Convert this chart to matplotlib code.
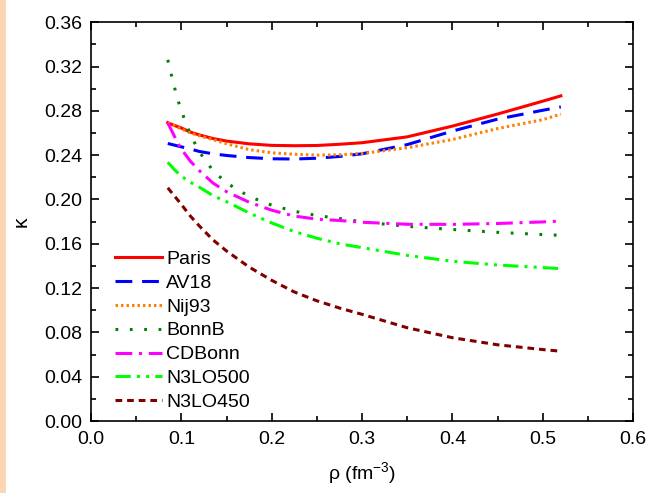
import numpy as np
import matplotlib
matplotlib.use("Agg")
from matplotlib import pyplot as plt
from matplotlib.patches import Rectangle
from matplotlib.ticker import MultipleLocator

plt.rcParams['font.family'] = ['Liberation Sans', 'DejaVu Sans']
plt.rcParams['axes.unicode_minus'] = False

# density grid (fm^-3)
rho = [0.085, 0.09, 0.095, 0.10, 0.11, 0.12, 0.135, 0.15, 0.175, 0.2,
       0.225, 0.25, 0.275, 0.3, 0.35, 0.4, 0.45, 0.5, 0.52]

kappa_paris = [0.2693, 0.2675, 0.2660, 0.2645, 0.2608, 0.2582, 0.2550, 0.2527, 0.2502, 0.2488,
               0.2485, 0.2487, 0.2498, 0.2512, 0.2565, 0.2662, 0.2771, 0.2887, 0.2935]
kappa_av18 = [0.2505, 0.2495, 0.2485, 0.2475, 0.2455, 0.2433, 0.2412, 0.2397, 0.2378, 0.2367,
              0.2365, 0.2372, 0.2388, 0.2412, 0.2495, 0.2617, 0.2725, 0.2805, 0.2835]
kappa_nij93 = [0.2693, 0.2675, 0.2655, 0.2637, 0.2600, 0.2575, 0.2540, 0.2503, 0.2450, 0.2421,
               0.2408, 0.2400, 0.2403, 0.2415, 0.2467, 0.2541, 0.2640, 0.2720, 0.2770]
kappa_bonnb = [0.3260, 0.3090, 0.2930, 0.2800, 0.2585, 0.2428, 0.2260, 0.2149, 0.2027, 0.1948,
               0.1893, 0.1855, 0.1828, 0.1798, 0.1757, 0.1729, 0.1703, 0.1683, 0.1676]
kappa_cdbonn = [0.2690, 0.2610, 0.2525, 0.2455, 0.2345, 0.2260, 0.2148, 0.2070, 0.1975, 0.1903,
                0.1850, 0.1822, 0.1810, 0.1794, 0.1776, 0.1775, 0.1783, 0.1797, 0.1805]
kappa_n3lo500 = [0.2335, 0.2290, 0.2248, 0.2210, 0.2155, 0.2110, 0.2035, 0.1980, 0.1878, 0.1788,
                 0.1710, 0.1650, 0.1600, 0.1565, 0.1495, 0.1442, 0.1408, 0.1385, 0.1375]
kappa_n3lo450 = [0.2105, 0.2055, 0.2005, 0.1955, 0.1850, 0.1760, 0.1635, 0.1535, 0.1390, 0.1270,
                 0.1165, 0.1085, 0.1020, 0.0963, 0.0842, 0.0752, 0.0688, 0.0645, 0.0630]

series = [
    ("Paris", kappa_paris, "#ff0000", "-"),
    ("AV18", kappa_av18, "#0000ff", (0, (5.5, 3.2))),
    ("Nij93", kappa_nij93, "#ff8000", (0, (0.8, 1.0))),
    ("BonnB", kappa_bonnb, "#008000", (0, (0.9, 3.8))),
    ("CDBonn", kappa_cdbonn, "#ff00ff", (0, (5.5, 2.2, 1.0, 2.2))),
    ("N3LO500", kappa_n3lo500, "#00ff00", (0, (5.0, 2.0, 1.0, 2.0, 1.0, 2.0))),
    ("N3LO450", kappa_n3lo450, "#800000", (0, (2.2, 1.6))),
]

fig = plt.figure(figsize=(6.54, 4.93), dpi=100)
fig.patches.append(Rectangle((0, 0), 6 / 654, 1, transform=fig.transFigure,
                             facecolor="#fcd5b4", edgecolor="none"))
ax = fig.add_axes([0.1391, 0.146, 0.829, 0.809])

for name, vals, color, ls in series:
    ax.plot(rho, vals, color=color, linestyle=ls, lw=2.2, label=name)

ax.set_xlim(0.0, 0.6)
ax.set_ylim(0.0, 0.36)
ax.xaxis.set_major_locator(MultipleLocator(0.1))
ax.xaxis.set_minor_locator(MultipleLocator(0.05))
ax.yaxis.set_major_locator(MultipleLocator(0.04))
ax.yaxis.set_minor_locator(MultipleLocator(0.02))
ax.xaxis.set_major_formatter(lambda v, p: f"{v:.1f}")
ax.yaxis.set_major_formatter(lambda v, p: f"{v:.2f}")
ax.tick_params(which="both", direction="in", top=True, right=True, width=1.2,
               labelsize=14)
ax.tick_params(which="major", length=6)
ax.tick_params(which="minor", length=3.5)
ax.tick_params(axis="x", pad=7)
ax.tick_params(axis="y", pad=6)
for s in ax.spines.values():
    s.set_linewidth(1.2)

ax.set_xlabel(r"ρ (fm$^{\mathregular{-3}}$)", fontsize=14, labelpad=9)
ax.set_ylabel("κ", fontsize=15, labelpad=10)

ax.legend(loc="upper left", bbox_to_anchor=(0.02, 0.462), frameon=False,
          fontsize=14, handlelength=2.4, handletextpad=0.2, labelspacing=0.32,
          borderpad=0.2)

plt.savefig("out.png", dpi=100)
plt.close()
